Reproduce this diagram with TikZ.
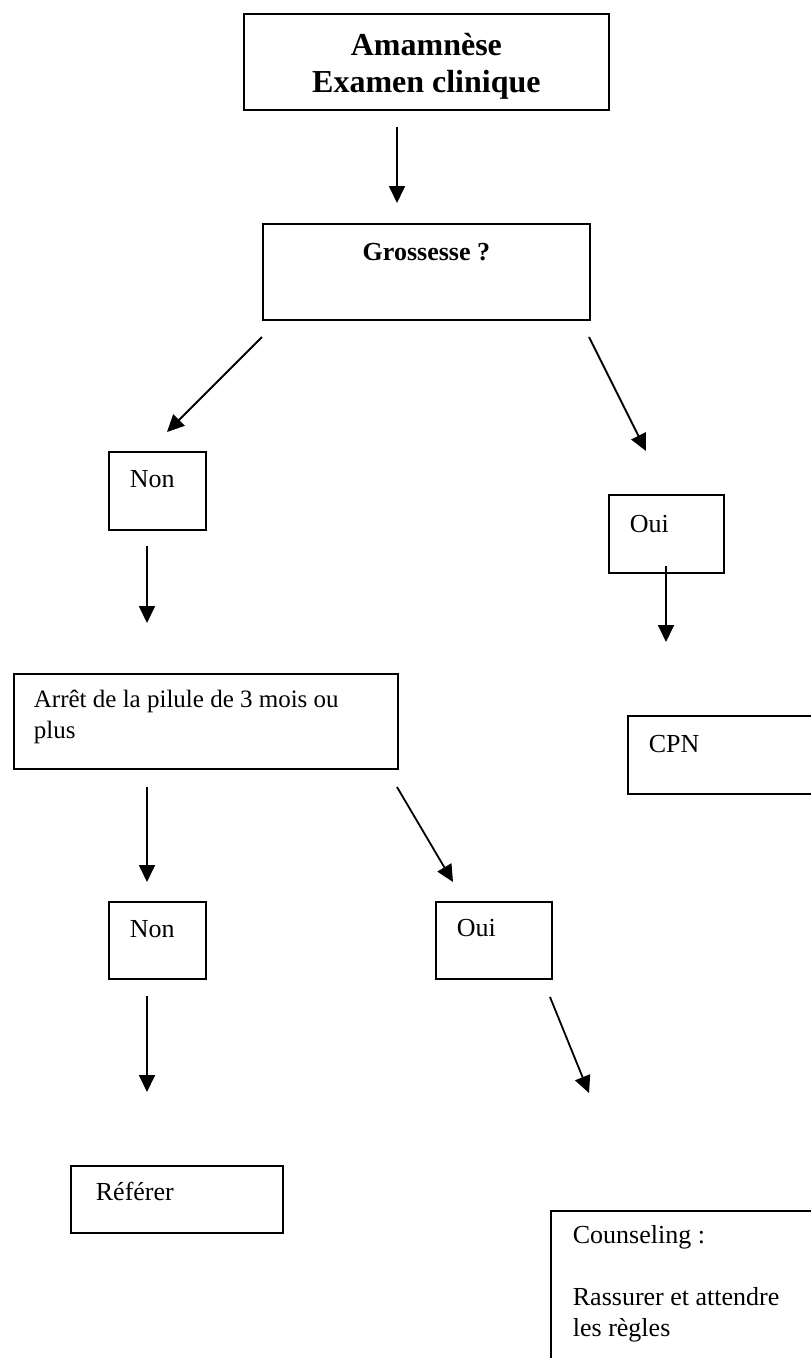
\documentclass[tikz,border=0pt]{standalone}
\usepackage{fontspec}
\setmainfont{Liberation Serif}
\usetikzlibrary{arrows.meta}

\tikzset{
  box/.style={draw, line width=1.8pt, rectangle, inner sep=0pt, anchor=north west,
    align=flush left, font=\fontsize{26}{31}\selectfont},
  titlebox/.style={box, align=flush center, font=\bfseries\fontsize{32}{37}\selectfont},
  qbox/.style={box, align=flush center, font=\bfseries\fontsize{26}{31}\selectfont},
  arr/.style={line width=1.8pt, -{Triangle[length=17pt,width=16pt]}}
}

\begin{document}
\begin{tikzpicture}[x=1pt,y=-1pt]
  \useasboundingbox (0,0) rectangle (811,1358);
  \clip (0,0) rectangle (811,1358);

  % boxes (top-left corner given; text placed by inner xsep / text height)
  \node[titlebox, text width=365pt, text height=42pt, text depth=54pt] (top) at (243,13)
    {Amamnèse\\Examen clinique};
  \node[qbox, text width=327pt, text height=37pt, text depth=59pt] (gros) at (262,223)
    {Grossesse ?};

  \node[box, inner xsep=21pt, text width=55pt, text height=36pt, text depth=42pt] (non1) at (108,451) {Non};
  \node[box, inner xsep=21pt, text width=73pt, text height=38pt, text depth=40pt] (oui1) at (608,494) {Oui};

  \node[box, font=\fontsize{25}{31}\selectfont, inner xsep=20pt, text width=344pt,
    text height=34pt, text depth=61pt] (arret) at (13,673)
    {Arrêt de la pilule de 3 mois ou\\plus};
  \node[box, inner xsep=21pt, text width=192pt, text height=37pt, text depth=41pt] (cpn) at (627,715) {CPN};

  \node[box, inner xsep=21pt, text width=55pt, text height=36pt, text depth=41pt] (non2) at (108,901) {Non};
  \node[box, inner xsep=21pt, text width=74pt, text height=35pt, text depth=42pt] (oui2) at (435,901) {Oui};

  \node[box, inner xsep=25pt, text width=162pt, text height=35pt, text depth=32pt] (referer) at (70,1165) {Référer};
  \node[box, inner xsep=22pt, text width=256pt, text height=33pt, text depth=200pt] (couns) at (550,1210)
    {Counseling :\\[31pt]Rassurer et attendre\\les règles};

  % connector end points
  \coordinate (a1s) at (397,127);  \coordinate (a1e) at (397,203);
  \coordinate (a2s) at (262,337);  \coordinate (a2e) at (167,432);
  \coordinate (a3s) at (589,337);  \coordinate (a3e) at (646,451);
  \coordinate (a4s) at (147,546);  \coordinate (a4e) at (147,623);
  \coordinate (a5s) at (666,566);  \coordinate (a5e) at (666,642);
  \coordinate (a6s) at (147,787);  \coordinate (a6e) at (147,882);
  \coordinate (a7s) at (397,787);  \coordinate (a7e) at (453,882);
  \coordinate (a8s) at (147,996);  \coordinate (a8e) at (147,1092);
  \coordinate (a9s) at (550,997);  \coordinate (a9e) at (589,1093);

  \draw[arr] (a1s) -- (a1e);
  \draw[arr] (a2s) -- (a2e);
  \draw[arr] (a3s) -- (a3e);
  \draw[arr] (a4s) -- (a4e);
  \draw[arr] (a5s) -- (a5e);
  \draw[arr] (a6s) -- (a6e);
  \draw[arr] (a7s) -- (a7e);
  \draw[arr] (a8s) -- (a8e);
  \draw[arr] (a9s) -- (a9e);
\end{tikzpicture}
\end{document}
